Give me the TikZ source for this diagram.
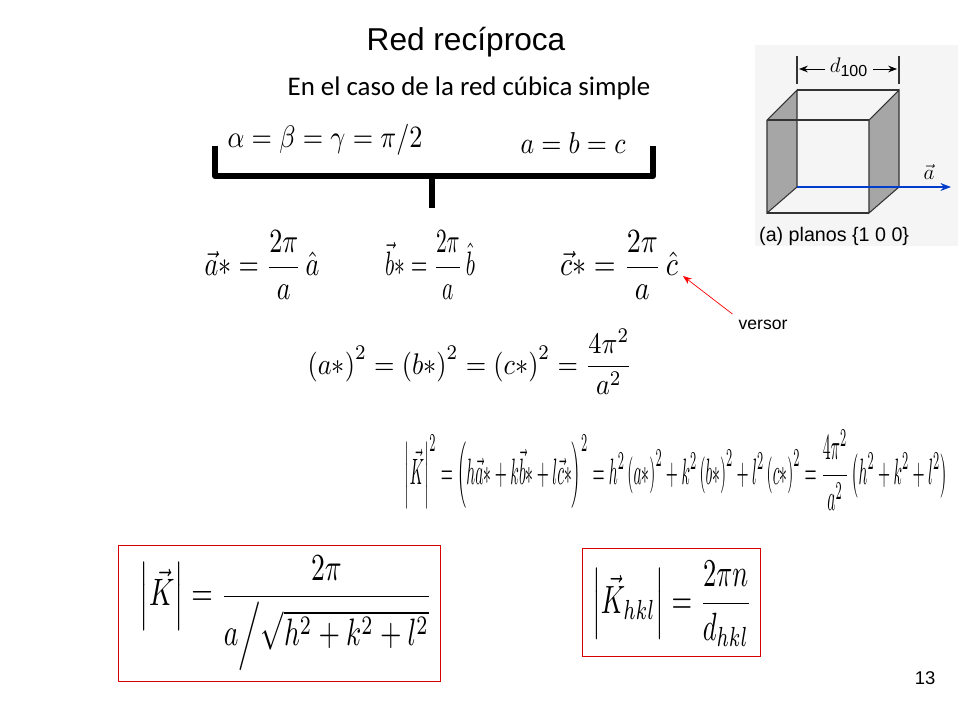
\documentclass[tikz,border=0pt]{standalone}
\usepackage{amsmath}
\usepackage{graphicx}
\usepackage{fontspec}
\setsansfont{Liberation Sans}
\newfontfamily\calibri{Carlito}
\usetikzlibrary{arrows.meta}
\newcommand{\fitw}[3]{\resizebox*{#1}{#2}{$\displaystyle #3$}}
\tikzset{
  eq/.style={inner sep=0pt},
  redbox/.style={draw=red!85!black, thin},
  face/.style={fill=gray!70, draw=black!80, line width=0.6pt},
  edge/.style={draw=black!80, line width=0.6pt}
}
\begin{document}
\begin{tikzpicture}[x=0.02cm, y=-0.02cm]
\useasboundingbox (0,0) rectangle (960,720);

% titulo
\node[font=\sffamily\fontsize{18}{22}\selectfont] (title) at (466,42) {Red recíproca};
\node[font=\calibri\fontsize{15.3}{18}\selectfont] (sub) at (469,88) {En el caso de la red cúbica simple};

% condiciones
\node[eq] (ang) at (325,140) {\fitw{3.9cm}{0.62cm}{\alpha=\beta=\gamma=\pi/2}};
\node[eq] (abc) at (573,143) {\fitw{2.1cm}{0.42cm}{a=b=c}};
\draw[line width=3.5pt, line join=round] (215,146) -- (215,176) -- (432,176) -- (432,208);
\draw[line width=3.5pt, line join=round] (432,176) -- (653,176) -- (653,146);

% vectores reciprocos
\node[eq] (as) at (262,265) {\fitw{2.3cm}{1.36cm}{\vec a{*}=\frac{2\pi}{a}\,\hat a}};
\node[eq] (bs) at (430,265) {\fitw{1.8cm}{1.36cm}{\vec b{*}=\frac{2\pi}{a}\,\hat b}};
\node[eq] (cs) at (619,265) {\fitw{2.36cm}{1.36cm}{\vec c{*}=\frac{2\pi}{a}\,\hat c}};
\node[font=\sffamily\fontsize{10}{12}\selectfont] (versor) at (763,325) {versor};
\coordinate (ver) at (683,276);
\draw[red, -{Stealth[length=5pt]}] (versor.north west) -- (ver);

\node[eq] (sq) at (470,362) {\fitw{6.5cm}{1.3cm}{\left(a{*}\right)^2=\left(b{*}\right)^2=\left(c{*}\right)^2=\frac{4\pi^2}{a^2}}};

% modulo de K
\node[eq] (K) at (676,470) {\fitw{10.85cm}{1.6cm}{\left|\vec K\right|^2=\left(h\vec a{*}+k\vec b{*}+l\vec c{*}\right)^2=h^2\left(a{*}\right)^2+k^2\left(b{*}\right)^2+l^2\left(c{*}\right)^2=\frac{4\pi^2}{a^2}\left(h^2+k^2+l^2\right)}};

% resultados
\draw[redbox] (118,545) rectangle (440,681);
\node[eq] (K1) at (286,613) {\fitw{5.85cm}{2.3cm}{\left|\vec K\right|=\frac{2\pi}{a\Big/\sqrt{h^2+k^2+l^2}}}};
\draw[redbox] (582,548) rectangle (760,656);
\node[eq] (K2) at (672,604) {\fitw{3.2cm}{1.7cm}{\left|\vec K_{hkl}\right|=\frac{2\pi n}{d_{hkl}}}};

% cubo
\fill[gray!8] (755,45) rectangle (958,246);
\draw[face] (767,120) -- (797,90) -- (797,187) -- (767,213) -- cycle;
\draw[face] (869,120) -- (899,90) -- (899,187) -- (869,213) -- cycle;
\draw[edge] (797,90) -- (899,90);
\draw[edge] (767,120) -- (869,120);
\draw[edge] (767,213) -- (869,213);
\draw[edge] (797,187) -- (869,187);
\draw[edge] (797,56) -- (797,84) (899,56) -- (899,84);
\draw[-{Stealth[length=5pt]}] (825,69) -- (799,69);
\draw[-{Stealth[length=5pt]}] (873,69) -- (897,69);
\node[font=\sffamily\fontsize{13}{15}\selectfont] (d100) at (849,67) {$d_{\text{100}}$};
\draw[blue!70!cyan!80!black, line width=1.2pt, -{Stealth[length=6pt]}] (797,187) -- (951,187);
\node[font=\fontsize{13}{15}\selectfont] (avec) at (929,172) {$\vec a$};
\node[font=\sffamily\fontsize{11.2}{13}\selectfont, anchor=west] (cap) at (753,236) {(a) planos \{1 0 0\}};

\node[font=\sffamily\fontsize{10.5}{12}\selectfont] (page) at (925,678) {13};
\end{tikzpicture}
\end{document}
